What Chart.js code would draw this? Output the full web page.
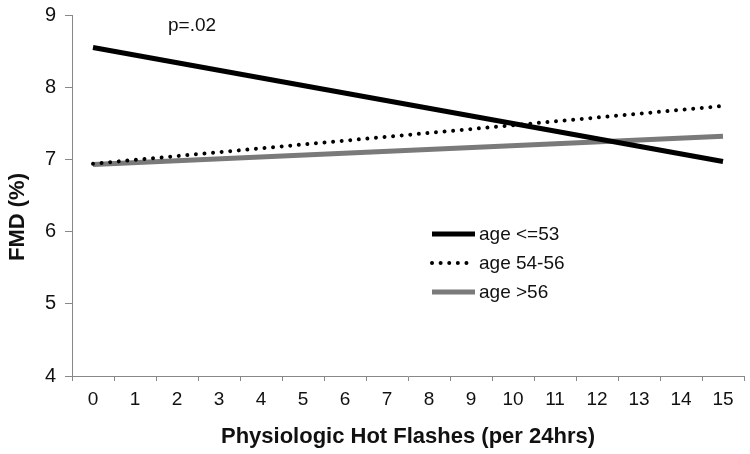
<!DOCTYPE html>
<html>
<head>
<meta charset="utf-8">
<script src="https://cdn.jsdelivr.net/npm/chart.js@4/dist/chart.umd.min.js"></script>
<style>
  html, body { margin: 0; padding: 0; background: #ffffff; }
  #wrap { width: 750px; height: 454px; position: relative; }
</style>
</head>
<body>
<div id="wrap"><canvas id="c" width="750" height="454"></canvas></div>
<script>
// Categories (hot flashes per 24 hrs)
const categories = ['0','1','2','3','4','5','6','7','8','9','10','11','12','13','14','15'];
// Fitted lines: values read at the endpoints (x = 0 and x = 15); straight lines between
const ageLE53   = [8.55, null, null, null, null, null, null, null, null, null, null, null, null, null, null, 6.97];
const age54to56 = [6.94, null, null, null, null, null, null, null, null, null, null, null, null, null, null, 7.74];
const ageGT56   = [6.93, null, null, null, null, null, null, null, null, null, null, null, null, null, null, 7.32];
const seriesNames = ['age <=53', 'age 54-56', 'age >56'];
const yTicks = [4, 5, 6, 7, 8, 9];
const annotationText = 'p=.02';
const xTitle = 'Physiologic Hot Flashes (per 24hrs)';
const yTitle = 'FMD (%)';

const FONT = "'Liberation Sans', Arial, sans-serif";

const overlay = {
  id: 'overlay',
  afterDatasetsDraw(chart) {
    const ctx = chart.ctx;
    const area = chart.chartArea;
    ctx.save();
    // p-value annotation
    ctx.fillStyle = '#111';
    ctx.font = '19px ' + FONT;
    ctx.textBaseline = 'middle';
    ctx.textAlign = 'left';
    ctx.fillText(annotationText, area.left + 96, area.top + 11);
    // legend
    const lx0 = area.left + 360, lx1 = area.left + 403;
    const ys = [area.top + 219, area.top + 248, area.top + 277];
    chart.data.datasets.forEach((ds, i) => {
      ctx.beginPath();
      ctx.strokeStyle = ds.borderColor;
      ctx.lineWidth = ds.borderWidth;
      ctx.lineCap = ds.borderCapStyle || 'butt';
      ctx.setLineDash(ds.borderDash || []);
      ctx.moveTo(lx0, ys[i]);
      ctx.lineTo(lx1, ys[i]);
      ctx.stroke();
      ctx.setLineDash([]);
      ctx.fillStyle = '#111';
      ctx.font = '19px ' + FONT;
      ctx.textBaseline = 'middle';
      ctx.fillText(ds.label, lx1 + 4, ys[i] + 1);
    });
    // y title
    ctx.translate(18, 217);
    ctx.rotate(-Math.PI / 2);
    ctx.font = 'bold 22px ' + FONT;
    ctx.textAlign = 'center';
    ctx.textBaseline = 'middle';
    ctx.fillStyle = '#111';
    ctx.fillText(yTitle, 0, 0);
    ctx.restore();
  }
};

new Chart(document.getElementById('c'), {
  type: 'line',
  data: {
    labels: categories,
    datasets: [
      { label: seriesNames[0], data: ageLE53, borderColor: '#000000', borderWidth: 5,
        pointRadius: 0, spanGaps: true, tension: 0, borderCapStyle: 'butt' },
      { label: seriesNames[1], data: age54to56, borderColor: '#000000', borderWidth: 4,
        pointRadius: 0, spanGaps: true, tension: 0, borderCapStyle: 'round', borderDash: [0.01, 8.6] },
      { label: seriesNames[2], data: ageGT56, borderColor: '#7a7a7a', borderWidth: 5,
        pointRadius: 0, spanGaps: true, tension: 0, borderCapStyle: 'butt' }
    ]
  },
  options: {
    responsive: false,
    animation: false,
    devicePixelRatio: 1,
    layout: { padding: { left: 0, right: 6, top: 15, bottom: 0 } },
    plugins: { legend: { display: false }, tooltip: { enabled: false } },
    scales: {
      x: {
        type: 'category',
        offset: true,
        grid: { offset: true, drawOnChartArea: false, drawTicks: true, tickLength: 5, color: '#888' },
        border: { color: '#888', width: 1 },
        ticks: { color: '#111', font: { family: FONT, size: 19 }, padding: 7, maxRotation: 0, autoSkip: false },
        title: { display: true, text: xTitle, color: '#111', font: { family: FONT, size: 22, weight: 'bold' }, padding: { top: 10, bottom: 4 } },
        afterFit(scale) { scale.height = 78; scale.paddingLeft = 0; scale.paddingRight = 0; }
      },
      y: {
        min: 4, max: 9,
        afterBuildTicks(scale) { scale.ticks = yTicks.map(v => ({ value: v })); },
        grid: { drawOnChartArea: false, drawTicks: true, tickLength: 7, color: '#888' },
        border: { color: '#888', width: 1 },
        ticks: { color: '#111', font: { family: FONT, size: 20 }, padding: 9 },
        afterFit(scale) { scale.width = 72; scale.paddingTop = 0; scale.paddingBottom = 0; }
      }
    }
  },
  plugins: [overlay]
});
</script>
</body>
</html>
